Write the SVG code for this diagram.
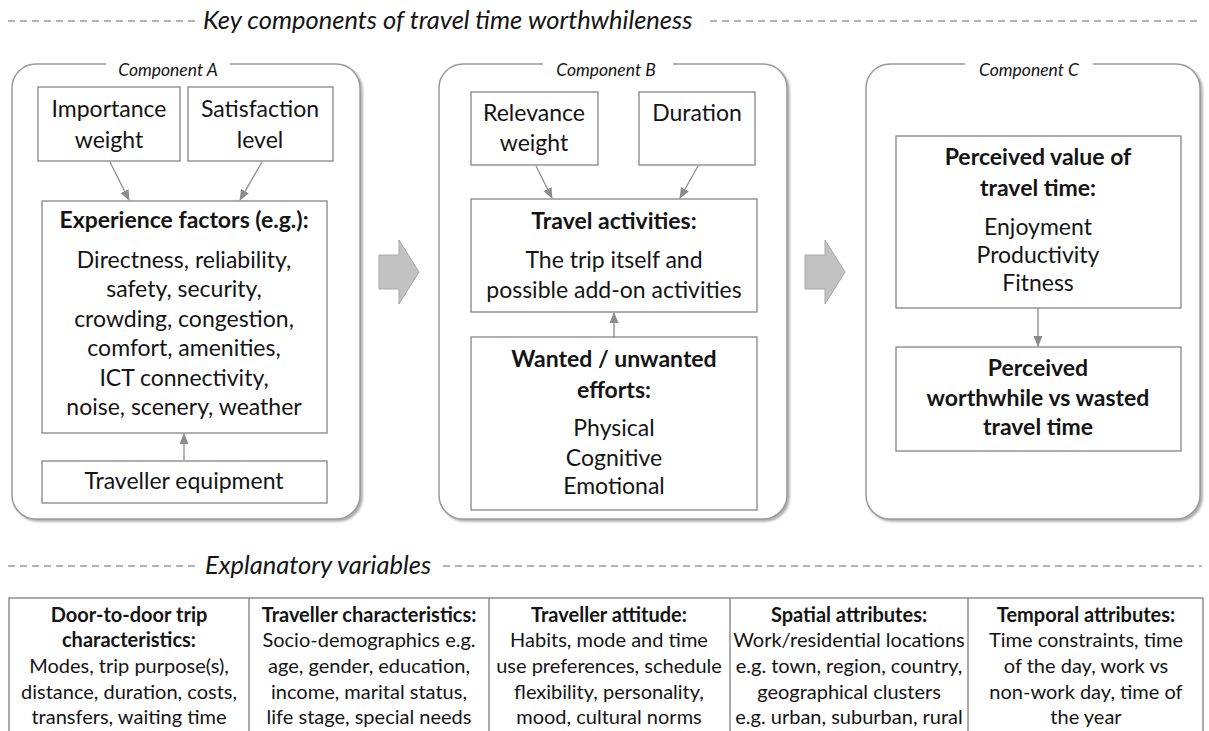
<svg xmlns="http://www.w3.org/2000/svg" width="1209" height="731" viewBox="0 0 1209 731">
<defs>
<marker id="ah" markerWidth="11" markerHeight="10" refX="10" refY="5" orient="auto" markerUnits="userSpaceOnUse"><path d="M0,0.5 L11,5 L0,9.5 Z" fill="#8c8c8c"/></marker>
<filter id="sh" x="-5%" y="-5%" width="112%" height="112%"><feDropShadow dx="2" dy="2" stdDeviation="1.2" flood-color="#777" flood-opacity="0.6"/></filter>
</defs>
<style>
text{font-family:Lato,"Liberation Sans",sans-serif;fill:#141414;text-anchor:middle}
.hd{font-style:italic;font-size:25.5px;text-anchor:start}
.cl{font-style:italic;font-size:17.5px}
.t{font-size:23px}
.b{font-weight:bold}
.tb{font-size:20px}
.box{fill:#fff;stroke:#858585;stroke-width:1.3}
.comp{fill:#fff;stroke:#9a9a9a;stroke-width:1.5}
.dash{stroke:#9a9a9a;stroke-width:1.3;stroke-dasharray:7 5}
.con{stroke:#8c8c8c;stroke-width:1.3;fill:none}
.big{fill:#c2c2c2;stroke:#a8a8a8;stroke-width:1}
.wh{fill:#fff}
.tl{stroke:#7f7f7f;stroke-width:1.3}
</style>
<rect width="1209" height="731" fill="#fff"/>

<g id="header-key">
<line class="dash" x1="8" y1="21" x2="195" y2="21"/>
<text class="hd" x="203" y="29">Key components of travel time worthwhileness</text>
<line class="dash" x1="710" y1="21" x2="1202" y2="21"/>
</g>

<g id="componentA">
<rect class="comp" x="12" y="64" width="348" height="455" rx="24" filter="url(#sh)"/>
<rect class="wh" x="106" y="56" width="124" height="16"/>
<text class="cl" x="168" y="76">Component A</text>
</g>
<g id="importance">
<rect class="box" x="38" y="87" width="142" height="74"/>
<text class="t" x="109" y="117">Importance</text>
<text class="t" x="109" y="148">weight</text>
</g>
<g id="satisfaction">
<rect class="box" x="188" y="87" width="145" height="74"/>
<text class="t" x="260" y="117">Satisfaction</text>
<text class="t" x="260" y="148">level</text>
</g>
<g id="experience">
<rect class="box" x="42" y="201" width="285" height="232"/>
<text class="t b" x="184" y="228">Experience factors (e.g.):</text>
<text class="t" x="184" y="268">Directness, reliability,</text>
<text class="t" x="184" y="297">safety, security,</text>
<text class="t" x="184" y="327">crowding, congestion,</text>
<text class="t" x="184" y="356">comfort, amenities,</text>
<text class="t" x="184" y="386">ICT connectivity,</text>
<text class="t" x="184" y="415">noise, scenery, weather</text>
</g>
<g id="equipment">
<rect class="box" x="42" y="461" width="285" height="42"/>
<text class="t" x="184" y="489">Traveller equipment</text>
</g>

<g id="componentB">
<rect class="comp" x="439" y="64" width="348" height="455" rx="24" filter="url(#sh)"/>
<rect class="wh" x="543" y="56" width="130" height="16"/>
<text class="cl" x="606" y="76">Component B</text>
</g>
<g id="relevance">
<rect class="box" x="471" y="92" width="127" height="73"/>
<text class="t" x="534" y="121">Relevance</text>
<text class="t" x="534" y="151">weight</text>
</g>
<g id="duration">
<rect class="box" x="639" y="92" width="116" height="73"/>
<text class="t" x="697" y="121">Duration</text>
</g>
<g id="activities">
<rect class="box" x="471" y="199" width="286" height="113"/>
<text class="t b" x="614" y="229">Travel activities:</text>
<text class="t" x="614" y="268">The trip itself and</text>
<text class="t" x="614" y="298">possible add-on activities</text>
</g>
<g id="efforts">
<rect class="box" x="471" y="337" width="286" height="173"/>
<text class="t b" x="614" y="367">Wanted / unwanted</text>
<text class="t b" x="614" y="398">efforts:</text>
<text class="t" x="614" y="436">Physical</text>
<text class="t" x="614" y="466">Cognitive</text>
<text class="t" x="614" y="494">Emotional</text>
</g>

<g id="componentC">
<rect class="comp" x="866" y="64" width="334" height="455" rx="24" filter="url(#sh)"/>
<rect class="wh" x="965" y="56" width="128" height="16"/>
<text class="cl" x="1029" y="76">Component C</text>
</g>
<g id="perceived-value">
<rect class="box" x="896" y="136" width="285" height="172"/>
<text class="t b" x="1038" y="165">Perceived value of</text>
<text class="t b" x="1038" y="196">travel time:</text>
<text class="t" x="1038" y="235">Enjoyment</text>
<text class="t" x="1038" y="263">Productivity</text>
<text class="t" x="1038" y="291">Fitness</text>
</g>
<g id="worthwhile">
<rect class="box" x="896" y="347" width="285" height="104"/>
<text class="t b" x="1038" y="376">Perceived</text>
<text class="t b" x="1038" y="406">worthwhile vs wasted</text>
<text class="t b" x="1038" y="435">travel time</text>
</g>

<g id="connectors">
<line class="con" x1="110" y1="162" x2="129" y2="200" marker-end="url(#ah)"/>
<line class="con" x1="262" y1="162" x2="240" y2="200" marker-end="url(#ah)"/>
<line class="con" x1="184" y1="460" x2="184" y2="434" marker-end="url(#ah)"/>
<line class="con" x1="536" y1="166" x2="552" y2="198" marker-end="url(#ah)"/>
<line class="con" x1="698" y1="166" x2="680" y2="198" marker-end="url(#ah)"/>
<line class="con" x1="614" y1="337" x2="614" y2="313" marker-end="url(#ah)"/>
<line class="con" x1="1038" y1="308" x2="1038" y2="346" marker-end="url(#ah)"/>
<path class="big" d="M379,255 H399 V240 L419,272 L399,304 V289 H379 Z"/>
<path class="big" d="M805,255 H825 V240 L845,272 L825,304 V289 H805 Z"/>
</g>

<g id="header-explanatory">
<line class="dash" x1="8" y1="566" x2="195" y2="566"/>
<text class="hd" x="205" y="574">Explanatory variables</text>
<line class="dash" x1="443" y1="566" x2="1202" y2="566"/>
</g>

<g id="table">
<rect x="9" y="598" width="1194" height="160" fill="#fff" stroke="#7f7f7f" stroke-width="1.3"/>
<line class="tl" x1="249" y1="598" x2="249" y2="740"/>
<line class="tl" x1="489" y1="598" x2="489" y2="740"/>
<line class="tl" x1="730" y1="598" x2="730" y2="740"/>
<line class="tl" x1="968" y1="598" x2="968" y2="740"/>
</g>
<g id="col-trip">
<text class="tb b" x="129" y="622">Door-to-door trip</text>
<text class="tb b" x="129" y="647">characteristics:</text>
<text class="tb" x="129" y="673">Modes, trip purpose(s),</text>
<text class="tb" x="129" y="699">distance, duration, costs,</text>
<text class="tb" x="129" y="724">transfers, waiting time</text>
</g>
<g id="col-traveller">
<text class="tb b" x="369" y="622">Traveller characteristics:</text>
<text class="tb" x="369" y="647">Socio-demographics e.g.</text>
<text class="tb" x="369" y="673">age, gender, education,</text>
<text class="tb" x="369" y="699">income, marital status,</text>
<text class="tb" x="369" y="724">life stage, special needs</text>
</g>
<g id="col-attitude">
<text class="tb b" x="609" y="622">Traveller attitude:</text>
<text class="tb" x="609" y="647">Habits, mode and time</text>
<text class="tb" x="609" y="673">use preferences, schedule</text>
<text class="tb" x="609" y="699">flexibility, personality,</text>
<text class="tb" x="609" y="724">mood, cultural norms</text>
</g>
<g id="col-spatial">
<text class="tb b" x="849" y="622">Spatial attributes:</text>
<text class="tb" x="849" y="647">Work/residential locations</text>
<text class="tb" x="849" y="673">e.g. town, region, country,</text>
<text class="tb" x="849" y="699">geographical clusters</text>
<text class="tb" x="849" y="724">e.g. urban, suburban, rural</text>
</g>
<g id="col-temporal">
<text class="tb b" x="1086" y="622">Temporal attributes:</text>
<text class="tb" x="1086" y="647">Time constraints, time</text>
<text class="tb" x="1086" y="673">of the day, work vs</text>
<text class="tb" x="1086" y="699">non-work day, time of</text>
<text class="tb" x="1086" y="724">the year</text>
</g>
</svg>
